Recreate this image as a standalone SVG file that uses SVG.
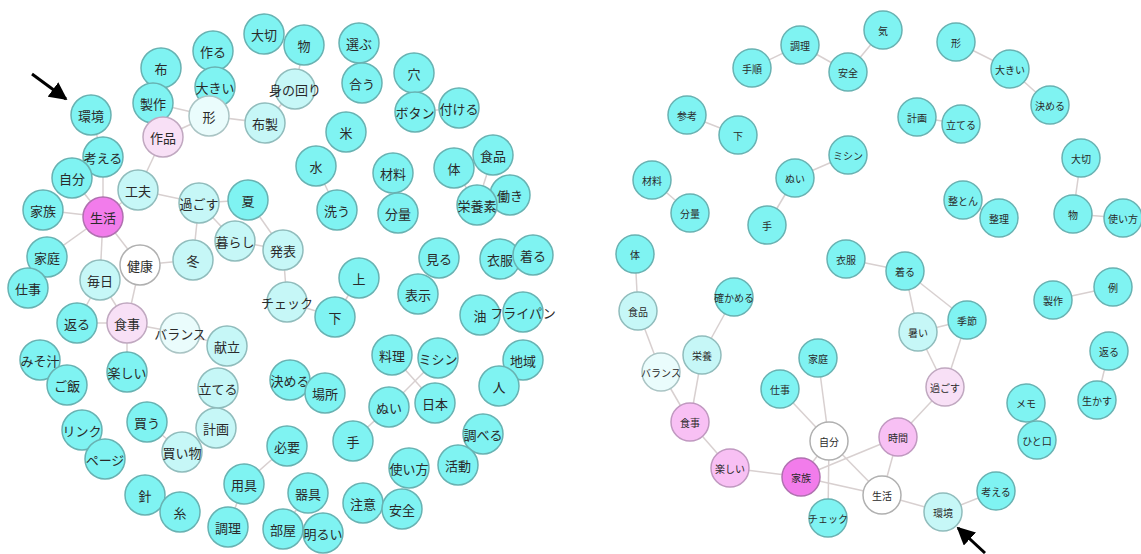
<svg xmlns="http://www.w3.org/2000/svg" width="1141" height="554" viewBox="0 0 1141 554">
<style>
.e line{stroke:#d8d0d0;stroke-width:1.5}
circle{stroke-width:1.5}
.c{fill:#7ff3f2;stroke:#68b2b2}
.lc{fill:#c6f7f7;stroke:#90bcbc}
.vl{fill:#eafcfc;stroke:#aac4c4}
.w{fill:#ffffff;stroke:#b0b0b0}
.p1{fill:#f8e0f6;stroke:#c0a8c0}
.p2{fill:#f8c0f4;stroke:#c098c0}
.m{fill:#f27ceb;stroke:#b070b0}
text{font-family:"Noto Sans CJK JP","Noto Sans",sans-serif;fill:#2a2a2a;text-anchor:middle;dominant-baseline:central}
.L text{font-size:13px}
.R text{font-size:10px}
.arr{stroke:#000;stroke-width:3}
</style>
<defs>
<marker id="ah" viewBox="0 0 10 10" refX="9" refY="5" markerWidth="6" markerHeight="6" orient="auto" markerUnits="strokeWidth">
<path d="M0,0 L10,5 L0,10 z" fill="#000"/>
</marker>
</defs>
<rect width="1141" height="554" fill="#fff"/>
<g id="connectors" class="e">
<line x1="91" y1="115" x2="103" y2="157"/>
<line x1="103" y1="157" x2="103" y2="217"/>
<line x1="72" y1="178" x2="103" y2="217"/>
<line x1="138" y1="190" x2="103" y2="217"/>
<line x1="43" y1="210" x2="103" y2="217"/>
<line x1="47" y1="257" x2="103" y2="217"/>
<line x1="100" y1="280" x2="103" y2="217"/>
<line x1="140" y1="265" x2="103" y2="217"/>
<line x1="153" y1="103" x2="209" y2="116"/>
<line x1="163" y1="137" x2="209" y2="116"/>
<line x1="215" y1="87" x2="209" y2="116"/>
<line x1="209" y1="116" x2="265" y2="123"/>
<line x1="163" y1="137" x2="138" y2="190"/>
<line x1="304" y1="45" x2="295" y2="89"/>
<line x1="295" y1="89" x2="265" y2="123"/>
<line x1="415" y1="112" x2="459" y2="108"/>
<line x1="316" y1="166" x2="337" y2="210"/>
<line x1="454" y1="168" x2="477" y2="205"/>
<line x1="493" y1="155" x2="477" y2="205"/>
<line x1="138" y1="190" x2="199" y2="203"/>
<line x1="199" y1="203" x2="248" y2="200"/>
<line x1="199" y1="203" x2="235" y2="241"/>
<line x1="248" y1="200" x2="283" y2="250"/>
<line x1="235" y1="241" x2="283" y2="250"/>
<line x1="199" y1="203" x2="193" y2="260"/>
<line x1="193" y1="260" x2="140" y2="265"/>
<line x1="140" y1="265" x2="127" y2="323"/>
<line x1="100" y1="280" x2="127" y2="323"/>
<line x1="100" y1="280" x2="77" y2="323"/>
<line x1="77" y1="323" x2="127" y2="323"/>
<line x1="127" y1="323" x2="180" y2="333"/>
<line x1="180" y1="333" x2="227" y2="346"/>
<line x1="127" y1="323" x2="127" y2="372"/>
<line x1="283" y1="250" x2="287" y2="302"/>
<line x1="287" y1="302" x2="335" y2="317"/>
<line x1="335" y1="317" x2="359" y2="278"/>
<line x1="218" y1="388" x2="216" y2="428"/>
<line x1="216" y1="428" x2="182" y2="452"/>
<line x1="182" y1="452" x2="147" y2="422"/>
<line x1="392" y1="355" x2="435" y2="403"/>
<line x1="438" y1="358" x2="389" y2="407"/>
<line x1="389" y1="407" x2="353" y2="441"/>
<line x1="287" y1="446" x2="244" y2="484"/>
<line x1="244" y1="484" x2="228" y2="527"/>
<line x1="308" y1="493" x2="283" y2="529"/>
<line x1="752" y1="68" x2="800" y2="45"/>
<line x1="800" y1="45" x2="848" y2="72"/>
<line x1="848" y1="72" x2="883" y2="30"/>
<line x1="956" y1="42" x2="1010" y2="69"/>
<line x1="1010" y1="69" x2="1050" y2="105"/>
<line x1="687" y1="115" x2="738" y2="135"/>
<line x1="917" y1="117" x2="961" y2="124"/>
<line x1="1081" y1="158" x2="1073" y2="214"/>
<line x1="1073" y1="214" x2="1123" y2="218"/>
<line x1="848" y1="155" x2="795" y2="178"/>
<line x1="795" y1="178" x2="767" y2="225"/>
<line x1="652" y1="180" x2="690" y2="213"/>
<line x1="963" y1="200" x2="999" y2="218"/>
<line x1="635" y1="254" x2="638" y2="311"/>
<line x1="638" y1="311" x2="661" y2="372"/>
<line x1="734" y1="297" x2="702" y2="355"/>
<line x1="702" y1="355" x2="690" y2="422"/>
<line x1="661" y1="372" x2="690" y2="422"/>
<line x1="1053" y1="300" x2="1113" y2="287"/>
<line x1="846" y1="259" x2="905" y2="271"/>
<line x1="905" y1="271" x2="967" y2="320"/>
<line x1="905" y1="271" x2="918" y2="332"/>
<line x1="918" y1="332" x2="967" y2="320"/>
<line x1="918" y1="332" x2="945" y2="387"/>
<line x1="967" y1="320" x2="945" y2="387"/>
<line x1="945" y1="387" x2="898" y2="437"/>
<line x1="898" y1="437" x2="882" y2="495"/>
<line x1="898" y1="437" x2="801" y2="477"/>
<line x1="801" y1="477" x2="882" y2="495"/>
<line x1="829" y1="441" x2="882" y2="495"/>
<line x1="818" y1="358" x2="829" y2="441"/>
<line x1="780" y1="389" x2="829" y2="441"/>
<line x1="829" y1="441" x2="801" y2="477"/>
<line x1="829" y1="441" x2="828" y2="518"/>
<line x1="690" y1="422" x2="730" y2="468"/>
<line x1="730" y1="468" x2="801" y2="477"/>
<line x1="882" y1="495" x2="943" y2="512"/>
<line x1="943" y1="512" x2="996" y2="491"/>
<line x1="1109" y1="351" x2="1097" y2="400"/>
<line x1="1026" y1="403" x2="1037" y2="440"/>
</g>
<g class="L">
<g id="l-kankyo"><circle class="c" cx="91" cy="115" r="20"/><text x="91" y="115">環境</text></g>
<g id="l-nuno"><circle class="c" cx="161" cy="68" r="20"/><text x="161" y="68">布</text></g>
<g id="l-tsukuru"><circle class="c" cx="213" cy="51" r="20"/><text x="213" y="51">作る</text></g>
<g id="l-taisetsu"><circle class="c" cx="264" cy="34" r="20"/><text x="264" y="34">大切</text></g>
<g id="l-mono"><circle class="c" cx="304" cy="45" r="20"/><text x="304" y="45">物</text></g>
<g id="l-erabu"><circle class="c" cx="359" cy="43" r="20"/><text x="359" y="43">選ぶ</text></g>
<g id="l-ookii"><circle class="c" cx="215" cy="87" r="20"/><text x="215" y="87">大きい</text></g>
<g id="l-seisaku"><circle class="c" cx="153" cy="103" r="20"/><text x="153" y="103">製作</text></g>
<g id="l-katachi"><circle class="vl" cx="209" cy="116" r="20"/><text x="209" y="116">形</text></g>
<g id="l-mino"><circle class="lc" cx="295" cy="89" r="20"/><text x="295" y="89">身の回り</text></g>
<g id="l-au"><circle class="c" cx="362" cy="83" r="20"/><text x="362" y="83">合う</text></g>
<g id="l-ana"><circle class="c" cx="414" cy="73" r="20"/><text x="414" y="73">穴</text></g>
<g id="l-botan"><circle class="c" cx="415" cy="112" r="20"/><text x="415" y="112">ボタン</text></g>
<g id="l-tsukeru"><circle class="c" cx="459" cy="108" r="20"/><text x="459" y="108">付ける</text></g>
<g id="l-nunosei"><circle class="lc" cx="265" cy="123" r="20"/><text x="265" y="123">布製</text></g>
<g id="l-sakuhin"><circle class="p1" cx="163" cy="137" r="20"/><text x="163" y="137">作品</text></g>
<g id="l-kangaeru"><circle class="c" cx="103" cy="157" r="20"/><text x="103" y="157">考える</text></g>
<g id="l-jibun"><circle class="c" cx="72" cy="178" r="20"/><text x="72" y="178">自分</text></g>
<g id="l-kufu"><circle class="lc" cx="138" cy="190" r="20"/><text x="138" y="190">工夫</text></g>
<g id="l-kome"><circle class="c" cx="346" cy="132" r="20"/><text x="346" y="132">米</text></g>
<g id="l-mizu"><circle class="c" cx="316" cy="166" r="20"/><text x="316" y="166">水</text></g>
<g id="l-zairyo"><circle class="c" cx="393" cy="173" r="20"/><text x="393" y="173">材料</text></g>
<g id="l-karada"><circle class="c" cx="454" cy="168" r="20"/><text x="454" y="168">体</text></g>
<g id="l-shokuhin"><circle class="c" cx="493" cy="155" r="20"/><text x="493" y="155">食品</text></g>
<g id="l-kazoku"><circle class="c" cx="43" cy="210" r="20"/><text x="43" y="210">家族</text></g>
<g id="l-seikatsu"><circle class="m" cx="103" cy="217" r="20"/><text x="103" y="217">生活</text></g>
<g id="l-sugosu"><circle class="lc" cx="199" cy="203" r="20"/><text x="199" y="203">過ごす</text></g>
<g id="l-natsu"><circle class="c" cx="248" cy="200" r="20"/><text x="248" y="200">夏</text></g>
<g id="l-kurashi"><circle class="lc" cx="235" cy="241" r="20"/><text x="235" y="241">暮らし</text></g>
<g id="l-happyo"><circle class="lc" cx="283" cy="250" r="20"/><text x="283" y="250">発表</text></g>
<g id="l-arau"><circle class="c" cx="337" cy="210" r="20"/><text x="337" y="210">洗う</text></g>
<g id="l-bunryo"><circle class="c" cx="398" cy="213" r="20"/><text x="398" y="213">分量</text></g>
<g id="l-hataraki"><circle class="c" cx="510" cy="195" r="20"/><text x="510" y="195">働き</text></g>
<g id="l-eiyoso"><circle class="c" cx="477" cy="205" r="20"/><text x="477" y="205">栄養素</text></g>
<g id="l-katei"><circle class="c" cx="47" cy="257" r="20"/><text x="47" y="257">家庭</text></g>
<g id="l-kenko"><circle class="w" cx="140" cy="265" r="20"/><text x="140" y="265">健康</text></g>
<g id="l-fuyu"><circle class="lc" cx="193" cy="260" r="20"/><text x="193" y="260">冬</text></g>
<g id="l-shigoto"><circle class="c" cx="28" cy="288" r="20"/><text x="28" y="288">仕事</text></g>
<g id="l-mainichi"><circle class="lc" cx="100" cy="280" r="20"/><text x="100" y="280">毎日</text></g>
<g id="l-miru"><circle class="c" cx="439" cy="258" r="20"/><text x="439" y="258">見る</text></g>
<g id="l-ifuku"><circle class="c" cx="500" cy="259" r="20"/><text x="500" y="259">衣服</text></g>
<g id="l-kiru"><circle class="c" cx="533" cy="255" r="20"/><text x="533" y="255">着る</text></g>
<g id="l-ue"><circle class="c" cx="359" cy="278" r="20"/><text x="359" y="278">上</text></g>
<g id="l-hyoji"><circle class="c" cx="418" cy="294" r="20"/><text x="418" y="294">表示</text></g>
<g id="l-check"><circle class="lc" cx="287" cy="302" r="20"/><text x="287" y="302">チェック</text></g>
<g id="l-shita"><circle class="c" cx="335" cy="317" r="20"/><text x="335" y="317">下</text></g>
<g id="l-abura"><circle class="c" cx="480" cy="315" r="20"/><text x="480" y="315">油</text></g>
<g id="l-furaipan"><circle class="c" cx="523" cy="312" r="20"/><text x="523" y="312">フライパン</text></g>
<g id="l-kaeru"><circle class="c" cx="77" cy="323" r="20"/><text x="77" y="323">返る</text></g>
<g id="l-shokuji"><circle class="p1" cx="127" cy="323" r="20"/><text x="127" y="323">食事</text></g>
<g id="l-balance"><circle class="vl" cx="180" cy="333" r="20"/><text x="180" y="333">バランス</text></g>
<g id="l-kondate"><circle class="lc" cx="227" cy="346" r="20"/><text x="227" y="346">献立</text></g>
<g id="l-misoshiru"><circle class="c" cx="40" cy="360" r="20"/><text x="40" y="360">みそ汁</text></g>
<g id="l-gohan"><circle class="c" cx="67" cy="385" r="20"/><text x="67" y="385">ご飯</text></g>
<g id="l-tanoshii"><circle class="c" cx="127" cy="372" r="20"/><text x="127" y="372">楽しい</text></g>
<g id="l-tateru"><circle class="lc" cx="218" cy="388" r="20"/><text x="218" y="388">立てる</text></g>
<g id="l-kimeru"><circle class="c" cx="290" cy="380" r="20"/><text x="290" y="380">決める</text></g>
<g id="l-basho"><circle class="c" cx="325" cy="393" r="20"/><text x="325" y="393">場所</text></g>
<g id="l-ryori"><circle class="c" cx="392" cy="355" r="20"/><text x="392" y="355">料理</text></g>
<g id="l-mishin"><circle class="c" cx="438" cy="358" r="20"/><text x="438" y="358">ミシン</text></g>
<g id="l-chiiki"><circle class="c" cx="523" cy="360" r="20"/><text x="523" y="360">地域</text></g>
<g id="l-hito"><circle class="c" cx="499" cy="386" r="20"/><text x="499" y="386">人</text></g>
<g id="l-nui"><circle class="c" cx="389" cy="407" r="20"/><text x="389" y="407">ぬい</text></g>
<g id="l-nihon"><circle class="c" cx="435" cy="403" r="20"/><text x="435" y="403">日本</text></g>
<g id="l-link"><circle class="c" cx="82" cy="430" r="20"/><text x="82" y="430">リンク</text></g>
<g id="l-kau"><circle class="c" cx="147" cy="422" r="20"/><text x="147" y="422">買う</text></g>
<g id="l-keikaku"><circle class="lc" cx="216" cy="428" r="20"/><text x="216" y="428">計画</text></g>
<g id="l-kaimono"><circle class="lc" cx="182" cy="452" r="20"/><text x="182" y="452">買い物</text></g>
<g id="l-page"><circle class="c" cx="105" cy="459" r="20"/><text x="105" y="459">ページ</text></g>
<g id="l-hitsuyo"><circle class="c" cx="287" cy="446" r="20"/><text x="287" y="446">必要</text></g>
<g id="l-te"><circle class="c" cx="353" cy="441" r="20"/><text x="353" y="441">手</text></g>
<g id="l-shiraberu"><circle class="c" cx="483" cy="434" r="20"/><text x="483" y="434">調べる</text></g>
<g id="l-tsukaikata"><circle class="c" cx="409" cy="468" r="20"/><text x="409" y="468">使い方</text></g>
<g id="l-katsudo"><circle class="c" cx="458" cy="465" r="20"/><text x="458" y="465">活動</text></g>
<g id="l-yogu"><circle class="c" cx="244" cy="484" r="20"/><text x="244" y="484">用具</text></g>
<g id="l-hari"><circle class="c" cx="145" cy="495" r="20"/><text x="145" y="495">針</text></g>
<g id="l-ito"><circle class="c" cx="180" cy="512" r="20"/><text x="180" y="512">糸</text></g>
<g id="l-kigu"><circle class="c" cx="308" cy="493" r="20"/><text x="308" y="493">器具</text></g>
<g id="l-chui"><circle class="c" cx="363" cy="503" r="20"/><text x="363" y="503">注意</text></g>
<g id="l-anzen"><circle class="c" cx="402" cy="509" r="20"/><text x="402" y="509">安全</text></g>
<g id="l-chori"><circle class="c" cx="228" cy="527" r="20"/><text x="228" y="527">調理</text></g>
<g id="l-heya"><circle class="c" cx="283" cy="529" r="20"/><text x="283" y="529">部屋</text></g>
<g id="l-akarui"><circle class="c" cx="323" cy="533" r="20"/><text x="323" y="533">明るい</text></g>
</g>
<g class="R">
<g id="r-ki"><circle class="c" cx="883" cy="30" r="19"/><text x="883" y="30">気</text></g>
<g id="r-tejun"><circle class="c" cx="752" cy="68" r="19"/><text x="752" y="68">手順</text></g>
<g id="r-chori"><circle class="c" cx="800" cy="45" r="19"/><text x="800" y="45">調理</text></g>
<g id="r-anzen"><circle class="c" cx="848" cy="72" r="19"/><text x="848" y="72">安全</text></g>
<g id="r-katachi"><circle class="c" cx="956" cy="42" r="19"/><text x="956" y="42">形</text></g>
<g id="r-ookii"><circle class="c" cx="1010" cy="69" r="19"/><text x="1010" y="69">大きい</text></g>
<g id="r-kimeru"><circle class="c" cx="1050" cy="105" r="19"/><text x="1050" y="105">決める</text></g>
<g id="r-sanko"><circle class="c" cx="687" cy="115" r="19"/><text x="687" y="115">参考</text></g>
<g id="r-shita"><circle class="c" cx="738" cy="135" r="19"/><text x="738" y="135">下</text></g>
<g id="r-keikaku"><circle class="c" cx="917" cy="117" r="19"/><text x="917" y="117">計画</text></g>
<g id="r-tateru"><circle class="c" cx="961" cy="124" r="19"/><text x="961" y="124">立てる</text></g>
<g id="r-taisetsu"><circle class="c" cx="1081" cy="158" r="19"/><text x="1081" y="158">大切</text></g>
<g id="r-mishin"><circle class="c" cx="848" cy="155" r="19"/><text x="848" y="155">ミシン</text></g>
<g id="r-zairyo"><circle class="c" cx="652" cy="180" r="19"/><text x="652" y="180">材料</text></g>
<g id="r-nui"><circle class="c" cx="795" cy="178" r="19"/><text x="795" y="178">ぬい</text></g>
<g id="r-bunryo"><circle class="c" cx="690" cy="213" r="19"/><text x="690" y="213">分量</text></g>
<g id="r-te"><circle class="c" cx="767" cy="225" r="19"/><text x="767" y="225">手</text></g>
<g id="r-seiton"><circle class="c" cx="963" cy="200" r="19"/><text x="963" y="200">整とん</text></g>
<g id="r-seiri"><circle class="c" cx="999" cy="218" r="19"/><text x="999" y="218">整理</text></g>
<g id="r-mono"><circle class="c" cx="1073" cy="214" r="19"/><text x="1073" y="214">物</text></g>
<g id="r-tsukaikata"><circle class="c" cx="1123" cy="218" r="19"/><text x="1123" y="218">使い方</text></g>
<g id="r-karada"><circle class="c" cx="635" cy="254" r="19"/><text x="635" y="254">体</text></g>
<g id="r-ifuku"><circle class="c" cx="846" cy="259" r="19"/><text x="846" y="259">衣服</text></g>
<g id="r-kiru"><circle class="c" cx="905" cy="271" r="19"/><text x="905" y="271">着る</text></g>
<g id="r-seisaku"><circle class="c" cx="1053" cy="300" r="19"/><text x="1053" y="300">製作</text></g>
<g id="r-rei"><circle class="c" cx="1113" cy="287" r="19"/><text x="1113" y="287">例</text></g>
<g id="r-tashikameru"><circle class="c" cx="734" cy="297" r="19"/><text x="734" y="297">確かめる</text></g>
<g id="r-shokuhin"><circle class="lc" cx="638" cy="311" r="19"/><text x="638" y="311">食品</text></g>
<g id="r-kisetsu"><circle class="c" cx="967" cy="320" r="19"/><text x="967" y="320">季節</text></g>
<g id="r-atsui"><circle class="lc" cx="918" cy="332" r="19"/><text x="918" y="332">暑い</text></g>
<g id="r-eiyo"><circle class="lc" cx="702" cy="355" r="19"/><text x="702" y="355">栄養</text></g>
<g id="r-katei"><circle class="c" cx="818" cy="358" r="19"/><text x="818" y="358">家庭</text></g>
<g id="r-kaeru"><circle class="c" cx="1109" cy="351" r="19"/><text x="1109" y="351">返る</text></g>
<g id="r-balance"><circle class="vl" cx="661" cy="372" r="19"/><text x="661" y="372">バランス</text></g>
<g id="r-shigoto"><circle class="c" cx="780" cy="389" r="19"/><text x="780" y="389">仕事</text></g>
<g id="r-sugosu"><circle class="p1" cx="945" cy="387" r="19"/><text x="945" y="387">過ごす</text></g>
<g id="r-memo"><circle class="c" cx="1026" cy="403" r="19"/><text x="1026" y="403">メモ</text></g>
<g id="r-ikasu"><circle class="c" cx="1097" cy="400" r="19"/><text x="1097" y="400">生かす</text></g>
<g id="r-shokuji"><circle class="p2" cx="690" cy="422" r="19"/><text x="690" y="422">食事</text></g>
<g id="r-jibun"><circle class="w" cx="829" cy="441" r="19"/><text x="829" y="441">自分</text></g>
<g id="r-jikan"><circle class="p2" cx="898" cy="437" r="19"/><text x="898" y="437">時間</text></g>
<g id="r-hitokuchi"><circle class="c" cx="1037" cy="440" r="19"/><text x="1037" y="440">ひと口</text></g>
<g id="r-tanoshii"><circle class="p2" cx="730" cy="468" r="19"/><text x="730" y="468">楽しい</text></g>
<g id="r-kazoku"><circle class="m" cx="801" cy="477" r="19"/><text x="801" y="477">家族</text></g>
<g id="r-seikatsu"><circle class="w" cx="882" cy="495" r="19"/><text x="882" y="495">生活</text></g>
<g id="r-kangaeru"><circle class="c" cx="996" cy="491" r="19"/><text x="996" y="491">考える</text></g>
<g id="r-kankyo"><circle class="lc" cx="943" cy="512" r="19"/><text x="943" y="512">環境</text></g>
<g id="r-check"><circle class="c" cx="828" cy="518" r="19"/><text x="828" y="518">チェック</text></g>
</g>
<g id="arrows">
<line class="arr" x1="32" y1="74" x2="66" y2="99" marker-end="url(#ah)"/>
<line class="arr" x1="985" y1="553" x2="958" y2="528" marker-end="url(#ah)"/>
</g>
</svg>
